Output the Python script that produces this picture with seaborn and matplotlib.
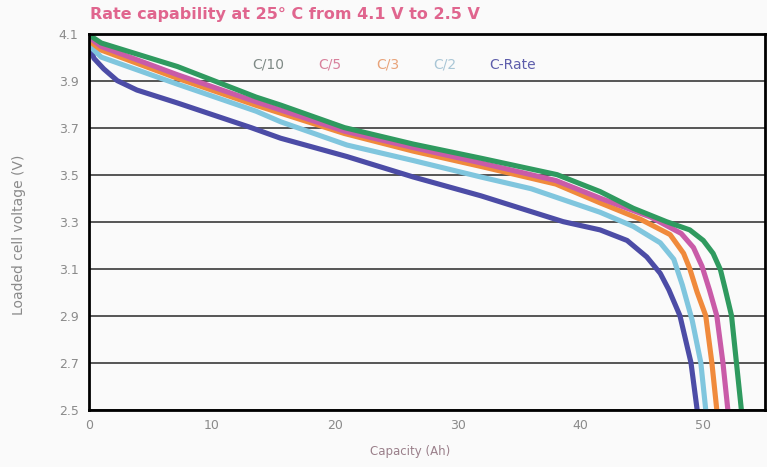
import pandas as pd
import numpy as np
import seaborn as sns
import matplotlib.pyplot as plt

# Discharge curves: capacity (Ah) vs loaded voltage (V)
c10_cap = [0, 1, 7.2, 13.6, 15.6, 20.8, 26.4, 31.9, 38.1, 41.6, 44.3, 47.0, 48.9, 50.0, 50.8, 51.4, 51.8, 52.3, 52.7, 53.1]
c10_v = [4.095, 4.06, 3.96, 3.83, 3.796, 3.70, 3.63, 3.57, 3.50, 3.428, 3.357, 3.30, 3.265, 3.22, 3.165, 3.095, 3.01, 2.90, 2.70, 2.50]

c5_cap = [0, 1, 7.2, 13.6, 20.8, 26.4, 31.9, 38, 41.6, 45.7, 48.2, 49.2, 49.9, 50.5, 51.1, 51.6, 52.0]
c5_v = [4.085, 4.045, 3.925, 3.81, 3.685, 3.615, 3.55, 3.475, 3.40, 3.32, 3.25, 3.19, 3.11, 3.01, 2.90, 2.70, 2.50]

c3_cap = [0, 1, 7.2, 13.6, 20.8, 26.4, 31.9, 38, 41.6, 44.9, 47.3, 48.4, 48.9, 49.5, 50.2, 50.7, 51.1]
c3_v = [4.07, 4.03, 3.91, 3.795, 3.675, 3.60, 3.535, 3.46, 3.38, 3.31, 3.245, 3.165, 3.10, 3.00, 2.90, 2.70, 2.50]

c2_cap = [0, 1, 7.2, 13.6, 15.6, 21.0, 26.4, 31.9, 36, 41.6, 44.3, 46.5, 47.6, 48.3, 49.1, 49.8, 50.2]
c2_v = [4.05, 4.00, 3.885, 3.77, 3.725, 3.626, 3.56, 3.49, 3.44, 3.34, 3.28, 3.21, 3.14, 3.03, 2.88, 2.70, 2.50]

c1_cap = [0, 0.4, 1.2, 2.3, 3.9, 7.2, 13.2, 15.6, 21.0, 26.4, 31.9, 38.6, 41.6, 43.8, 45.4, 46.5, 47.2, 48.1, 49.0, 49.5]
c1_v = [4.06, 3.995, 3.95, 3.90, 3.86, 3.805, 3.70, 3.655, 3.577, 3.49, 3.41, 3.30, 3.265, 3.22, 3.15, 3.08, 3.01, 2.90, 2.70, 2.50]

rates = ["C/10", "C/5", "C/3", "C/2", "C-Rate"]
line_colors = ["#2f9a5f", "#c95ba8", "#f08a3c", "#80c6de", "#4c4ca6"]
label_colors = ["#7f8a86", "#d8809c", "#e8a37a", "#a9c6d6", "#5d5dab"]

frames = []
for rate, cap, v in zip(rates, [c10_cap, c5_cap, c3_cap, c2_cap, c1_cap],
                        [c10_v, c5_v, c3_v, c2_v, c1_v]):
    frames.append(pd.DataFrame({"cap": cap, "v": v, "rate": rate}))
df = pd.concat(frames, ignore_index=True)

sns.set_style("white")
plt.rcParams['font.family'] = ['DejaVu Sans']

fig = plt.figure(figsize=(7.67, 4.67), dpi=100)
fig.patch.set_facecolor("#fafafa")
ax = fig.add_axes([0.116, 0.1227, 0.881, 0.8053])
ax.set_facecolor("#fafafa")

# horizontal grid
for yv in np.arange(2.5, 4.11, 0.2):
    ax.axhline(yv, color="#555555", lw=1.4, zorder=1)

sns.lineplot(data=df, x="cap", y="v", hue="rate", hue_order=rates[::-1],
             palette=dict(zip(rates, line_colors)), linewidth=3.7,
             legend=False, sort=False, estimator=None, ax=ax, zorder=3)
for ln in ax.get_lines():
    ln.set_solid_joinstyle("round")

ax.set_xlim(0, 55)
ax.set_ylim(2.5, 4.1)
ax.set_xticks(np.arange(0, 55, 5))
ax.set_xticklabels([str(t) if t % 10 == 0 else "" for t in range(0, 55, 5)])
ax.set_yticks(np.arange(2.5, 4.11, 0.2))
ax.set_yticklabels([f"{t:.1f}" for t in np.arange(2.5, 4.11, 0.2)])
ax.tick_params(axis="both", direction="inout", length=7, width=1.5,
               color="black", labelcolor="#8a8a8a", labelsize=9)
ax.tick_params(axis="y", pad=4)

for side in ["left", "bottom", "top", "right"]:
    ax.spines[side].set_color("black")
    ax.spines[side].set_linewidth(2)
    ax.spines[side].set_zorder(4)

ax.set_xlabel("Capacity (Ah)", color="#9a7f8a", fontsize=8.5)
ax.set_ylabel("Loaded cell voltage (V)", color="#8a8a8a", fontsize=10)
ax.xaxis.set_label_coords((410 - 89) / 676, -0.095)
ax.yaxis.set_label_coords(-0.093, 0.465)

fig.text(0.117, 0.968, "Rate capability at 25° C from 4.1 V to 2.5 V",
         color="#e0658e", fontsize=11.5, fontweight="bold", va="center", ha="left")

# text-only legend
legend_x = [268, 330, 388, 445, 513]
for name, col, px in zip(rates, label_colors, legend_x):
    fig.text(px / 767, 1 - 65 / 467, name, color=col, fontsize=10,
             ha="center", va="center")

fig.savefig("out.png", dpi=100, facecolor=fig.get_facecolor())
